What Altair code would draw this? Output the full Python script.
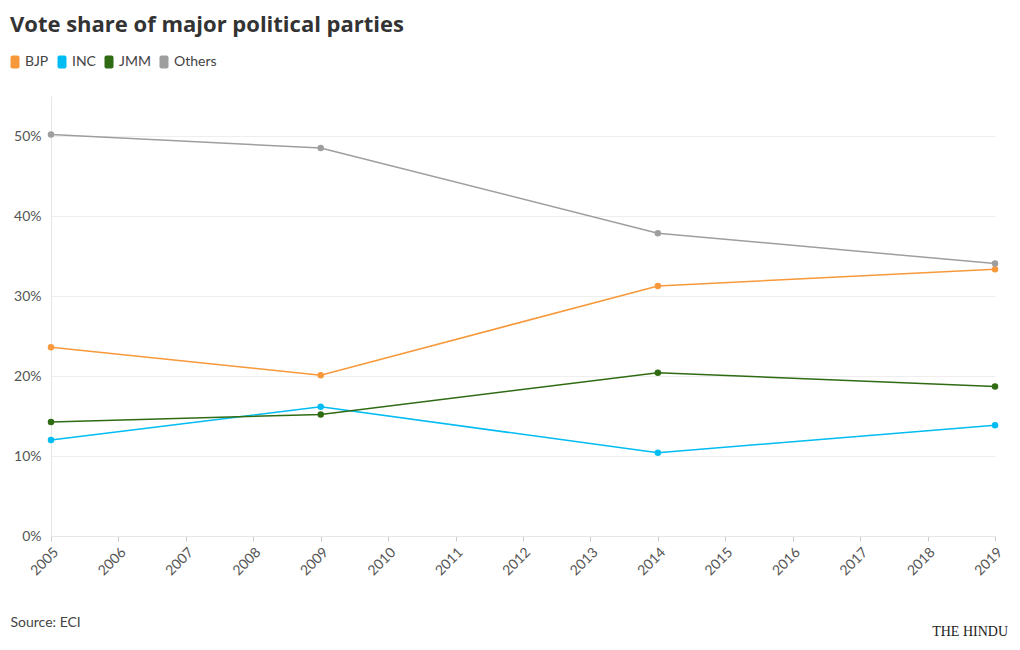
import altair as alt
import pandas as pd

years = [2005, 2009, 2014, 2019]
parties = ["BJP", "INC", "JMM", "Others"]
bjp = [23.6, 20.1, 31.25, 33.35]
inc = [12.0, 16.15, 10.4, 13.85]
jmm = [14.25, 15.2, 20.4, 18.7]
others = [50.2, 48.5, 37.85, 34.05]
colors = ["#f7993a", "#00bcf2", "#2e6b12", "#9e9e9e"]
year_ticks = list(range(2005, 2020))
y_ticks = [0, 10, 20, 30, 40, 50]

series = {"BJP": bjp, "INC": inc, "JMM": jmm, "Others": others}
rows = []
for p in parties:
    for yr, v in zip(years, series[p]):
        rows.append({"Year": yr, "Party": p, "Share": v})
df = pd.DataFrame(rows)

FONT = "Lato"
TFONT = "Open Sans"
TXT = "#444444"

x_enc = alt.X(
    "Year:Q",
    scale=alt.Scale(domain=[2005, 2019], nice=False, zero=False),
    axis=alt.Axis(
        values=year_ticks, format="d", labelAngle=-45, labelFontSize=14,
        labelColor="#555555", labelFont=FONT, tickColor="#cccccc", tickSize=5,
        domainColor="#e6e6e6", grid=False, labelPadding=4,
        title="Source: ECI", titleFont=FONT, titleFontSize=14, titleFontWeight="normal",
        titleColor=TXT, titleAnchor="start", titleAlign="left", titleX=-41, titleY=90,
        titleBaseline="alphabetic",
    ),
)
y_enc = alt.Y(
    "Share:Q",
    scale=alt.Scale(domain=[0, 55], nice=False),
    axis=alt.Axis(
        values=y_ticks, labelExpr="datum.value + '%'", labelFontSize=14,
        labelColor="#555555", labelFont=FONT, ticks=False, domain=True,
        domainColor="#e6e6e6", gridColor="#eeeeee", labelPadding=10, title=None,
    ),
)
SYM = ("M-0.28,-0.72 L0.28,-0.72 Q0.5,-0.72 0.5,-0.5 L0.5,0.5 Q0.5,0.72 0.28,0.72 "
       "L-0.28,0.72 Q-0.5,0.72 -0.5,0.5 L-0.5,-0.5 Q-0.5,-0.72 -0.28,-0.72 Z")
color_scale = alt.Scale(domain=parties, range=colors)
color_enc = alt.Color(
    "Party:N",
    scale=color_scale,
    legend=alt.Legend(
        orient="none", legendX=-45, legendY=-43, direction="horizontal", title=None,
        symbolType=SYM, symbolSize=324, symbolOpacity=1, symbolStrokeWidth=0,
        labelFontSize=14, labelColor=TXT, labelFont=FONT, labelOffset=1,
        columnPadding=4,
    ),
)

base = alt.Chart(df)
lines = base.mark_line(strokeWidth=1.5).encode(x=x_enc, y=y_enc, color=color_enc)
points = base.mark_circle(size=42, opacity=1).encode(
    x=x_enc, y=y_enc, color=alt.Color("Party:N", scale=color_scale, legend=None)
)

logo = alt.Chart(pd.DataFrame({"t": ["THE HINDU"]})).mark_text(
    font="Liberation Serif", fontSize=14, color="#222222", align="right", baseline="alphabetic",
).encode(text="t:N", x=alt.value(957), y=alt.value(540))

chart = alt.layer(lines, points, logo).properties(
    width=944, height=440,
    autosize=alt.AutoSizeParams(type="none"),
    padding={"left": 43, "top": 88, "right": 17, "bottom": 106},
    title=alt.TitleParams(
        "Vote share of major political parties", anchor="start", frame="group",
        dx=-41, font=TFONT, fontSize=22, fontWeight="bold", color="#333333", offset=16,
    ),
).configure_view(stroke=None)

chart.save("out.html", embed_options={"renderer": "svg", "actions": False})
